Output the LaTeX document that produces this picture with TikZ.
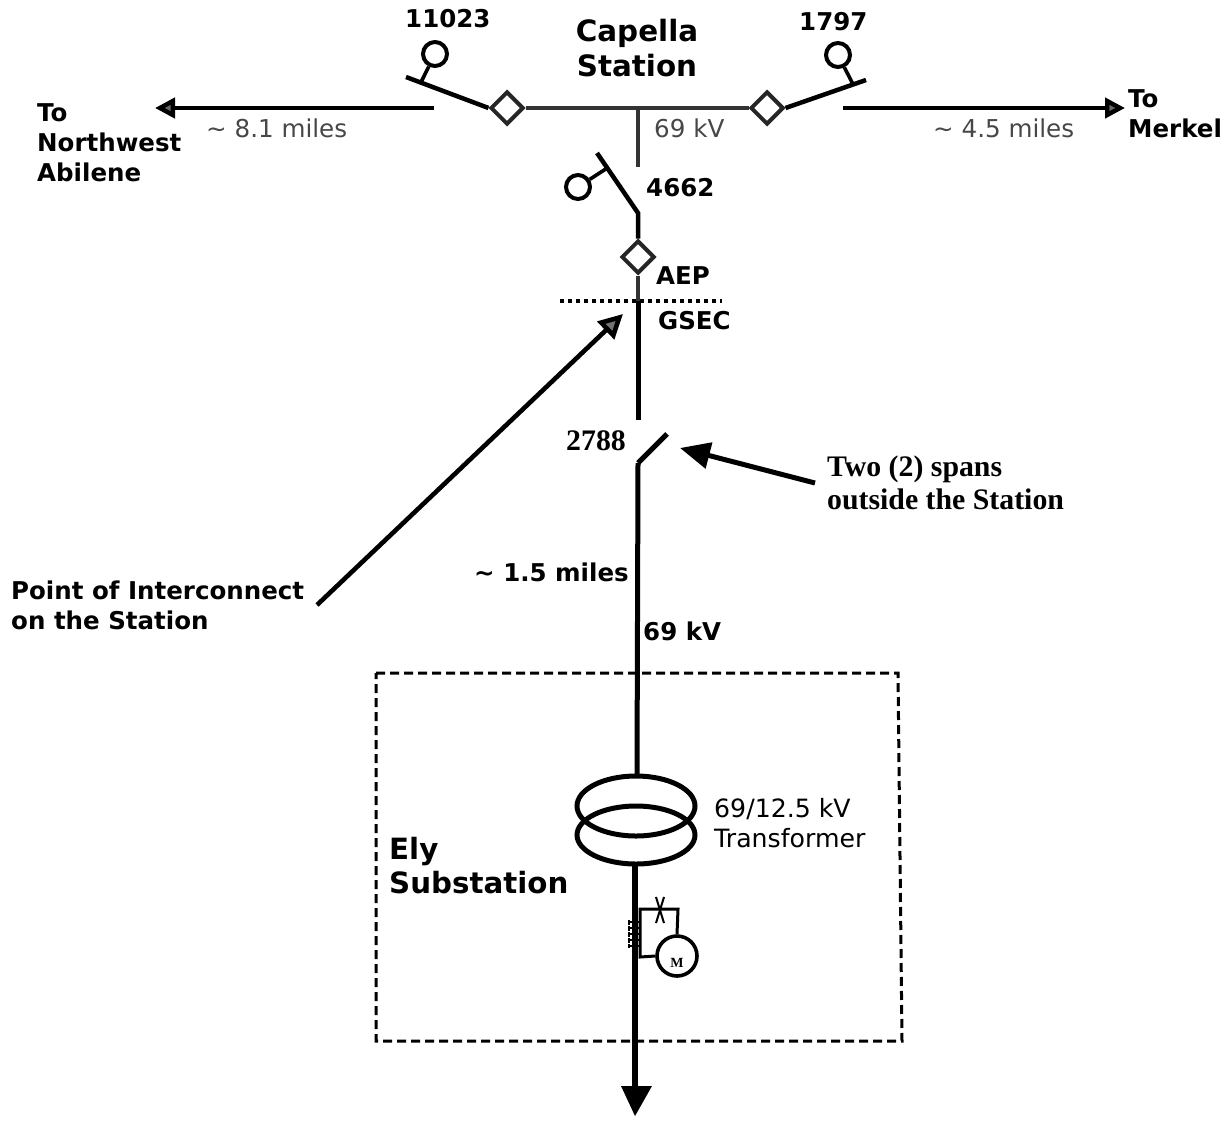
\documentclass[tikz,border=0pt]{standalone}
\usepackage{fontspec}
\setmainfont{DejaVu Sans}
\newfontfamily\serifb{Liberation Serif}
\usetikzlibrary{arrows.meta,shapes.geometric,calc}
\tikzset{
  x=1pt,y=-1pt,
  wire/.style={line width=4pt,draw=black!80},
  heavy/.style={line width=5pt,draw=black},
  blade/.style={line width=4.5pt,draw=black},
  thin wire/.style={line width=3.6pt,draw=black},
  switchring/.style={circle,draw=black,line width=4pt,minimum size=24pt,inner sep=0pt},
  breaker/.style={diamond,draw=black!85,line width=4pt,minimum size=33pt,inner sep=0pt,fill=white},
  lbl/.style={inner sep=0pt,anchor=west,align=left,font=\fontsize{24.5}{30}\selectfont\bfseries},
  lite/.style={inner sep=0pt,anchor=west,align=left,text=black!72,font=\fontsize{24.6}{30}\selectfont},
  plain lbl/.style={inner sep=0pt,anchor=north west,align=left,font=\fontsize{25.2}{30}\selectfont},
  serif lbl/.style={inner sep=0pt,anchor=west,align=left,font=\fontsize{29.8}{33}\selectfont\serifb\bfseries},
}
\begin{document}
\begin{tikzpicture}
\useasboundingbox (0,0) rectangle (1228,1122);
% coordinates
\coordinate (busT) at (638,108);
\coordinate (lineLend) at (434,108);
\coordinate (lineLtip) at (155,108);
\coordinate (lineRend) at (843,108);
\coordinate (lineRtip) at (1125,108);
\coordinate (bladeLend) at (406,77);
\coordinate (bladeRend) at (866,80);
\coordinate (stub) at (638,167);
\coordinate (b4662top) at (597,153);
\coordinate (b4662bot) at (638,213);
\coordinate (gsecEnd) at (638,420);
\coordinate (s2788a) at (638,463);
\coordinate (s2788b) at (667,434);
\coordinate (xfTop) at (637,775);
\coordinate (poiStart) at (317,605);
\coordinate (poiTip) at (623,314);
\coordinate (spanStart) at (815,483);
\coordinate (spanTip) at (680,448);
\coordinate (divL) at (560,301);
\coordinate (divR) at (722,301);
\coordinate (divM) at (638,301);
\coordinate (outTip) at (635,1116);
% nodes
\node[breaker] (dL) at (507,108) {};
\node[breaker] (dR) at (767,108) {};
\node[breaker] (dA) at (638,257) {};
\node[switchring] (rL) at (435,54) {};
\node[switchring] (rR) at (838,55) {};
\node[switchring] (rA) at (578,187) {};
% bus
\draw[wire] (dL) -- (dR);
\draw[wire] (busT) -- (stub);
\draw[blade] (dL.west) -- (bladeLend);
\draw[blade] (dR.east) -- (bladeRend);
\draw[thin wire] (rL) -- ($(bladeLend)!0.18!(dL.west)$);
\draw[thin wire] (rR) -- ($(bladeRend)!0.16!(dR.east)$);
\draw[line width=4.4pt,-{Triangle[length=20pt,width=20pt,fill=black!60]}] (lineLend) -- (lineLtip);
\draw[line width=4.4pt,-{Triangle[length=20pt,width=20pt,fill=black!60]}] (lineRend) -- (lineRtip);
% 4662
\draw[blade] (b4662top) -- (b4662bot) -- (dA.north);
\draw[thin wire] (rA) -- ($(b4662top)!0.25!(b4662bot)$);
\draw[wire] (dA.south) -- (divM);
\draw[heavy] (divM) -- (gsecEnd);
\draw[line width=3.6pt,dash pattern=on 4pt off 4pt] (divL) -- (divR);
% 2788
\draw[heavy] (s2788a) -- (s2788b);
\draw[heavy] (s2788a) -- (xfTop);
% arrows
\draw[line width=4.6pt,-{Triangle[length=24pt,width=24pt,fill=black!55]}] (poiStart) -- (poiTip);
\draw[line width=5pt,-{Triangle[length=30pt,width=26pt]}] (spanStart) -- (spanTip);
% box
\draw[line width=3pt,dash pattern=on 9pt off 5pt] (376,673) -- (898,673) -- (902,1041) -- (376,1041) -- cycle;
% transformer
\draw[line width=5pt] (636,806) ellipse [x radius=59,y radius=30];
\draw[line width=5pt] (636,835) ellipse [x radius=59,y radius=29];
% load
\coordinate (xfBot) at (635,865);
\draw[line width=6pt] (xfBot) -- (635,1090);
\draw[fill=black,draw=none] (621,1086) -- (652,1086) -- (outTip) -- cycle;
% motor
\node[circle,draw=black,line width=3.6pt,minimum size=40pt,inner sep=0pt] (mot) at (677,956) {};
\node[inner sep=0pt,font=\fontsize{14}{14}\selectfont\serifb\bfseries] (motM) at (677,963) {M};
\draw[line width=3pt] (mot.north) -- (678,909) -- (640,909) -- (640,957) -- (mot.west);
\draw[line width=2pt] (656,897) -- (664,923) (664,897) -- (656,923);
% coil
\draw[line width=2pt,densely dotted] (629,920) -- (629,948);
\foreach \yy in {922,928,934,940,946}{\draw[line width=2pt] (628,\yy) -- (640,\yy);}
% texts
\node[lbl] (t1) at (405,19) {11023};
\node[lbl] (t2) at (799,22) {1797};
\node[inner sep=0pt,align=center,font=\fontsize{29.4}{35}\selectfont\bfseries] (t3) at (637,48) {Capella\\Station};
\node[lbl,anchor=north west] (t4) at (37,103) {To\\Northwest\\Abilene};
\node[lbl,anchor=north west] (t5) at (1128,89) {To\\Merkel};
\node[lite] (t6) at (206,128) {\string~ 8.1 miles};
\node[lite] (t7) at (933,128) {\string~ 4.5 miles};
\node[lite] (t8) at (654,128) {69 kV};
\node[lbl] (t9) at (646,188) {4662};
\node[lbl] (t10) at (656,276) {AEP};
\node[lbl] (t11) at (658,321) {GSEC};
\node[serif lbl] (t12) at (566,441) {2788};
\node[serif lbl,anchor=north west] (t13) at (827,456) {Two (2) spans\\outside the Station};
\node[lbl,anchor=north west] (t14) at (11,581) {Point of Interconnect\\on the Station};
\node[lbl] (t15) at (474,572) {\string~ 1.5 miles};
\node[lbl] (t16) at (643,631) {69 kV};
\node[plain lbl] (t17) at (714,798) {69/12.5 kV\\Transformer};
\node[lbl,anchor=north west,font=\fontsize{29.3}{34}\selectfont\bfseries] (t18) at (389,837) {Ely\\Substation};
\end{tikzpicture}
\end{document}
